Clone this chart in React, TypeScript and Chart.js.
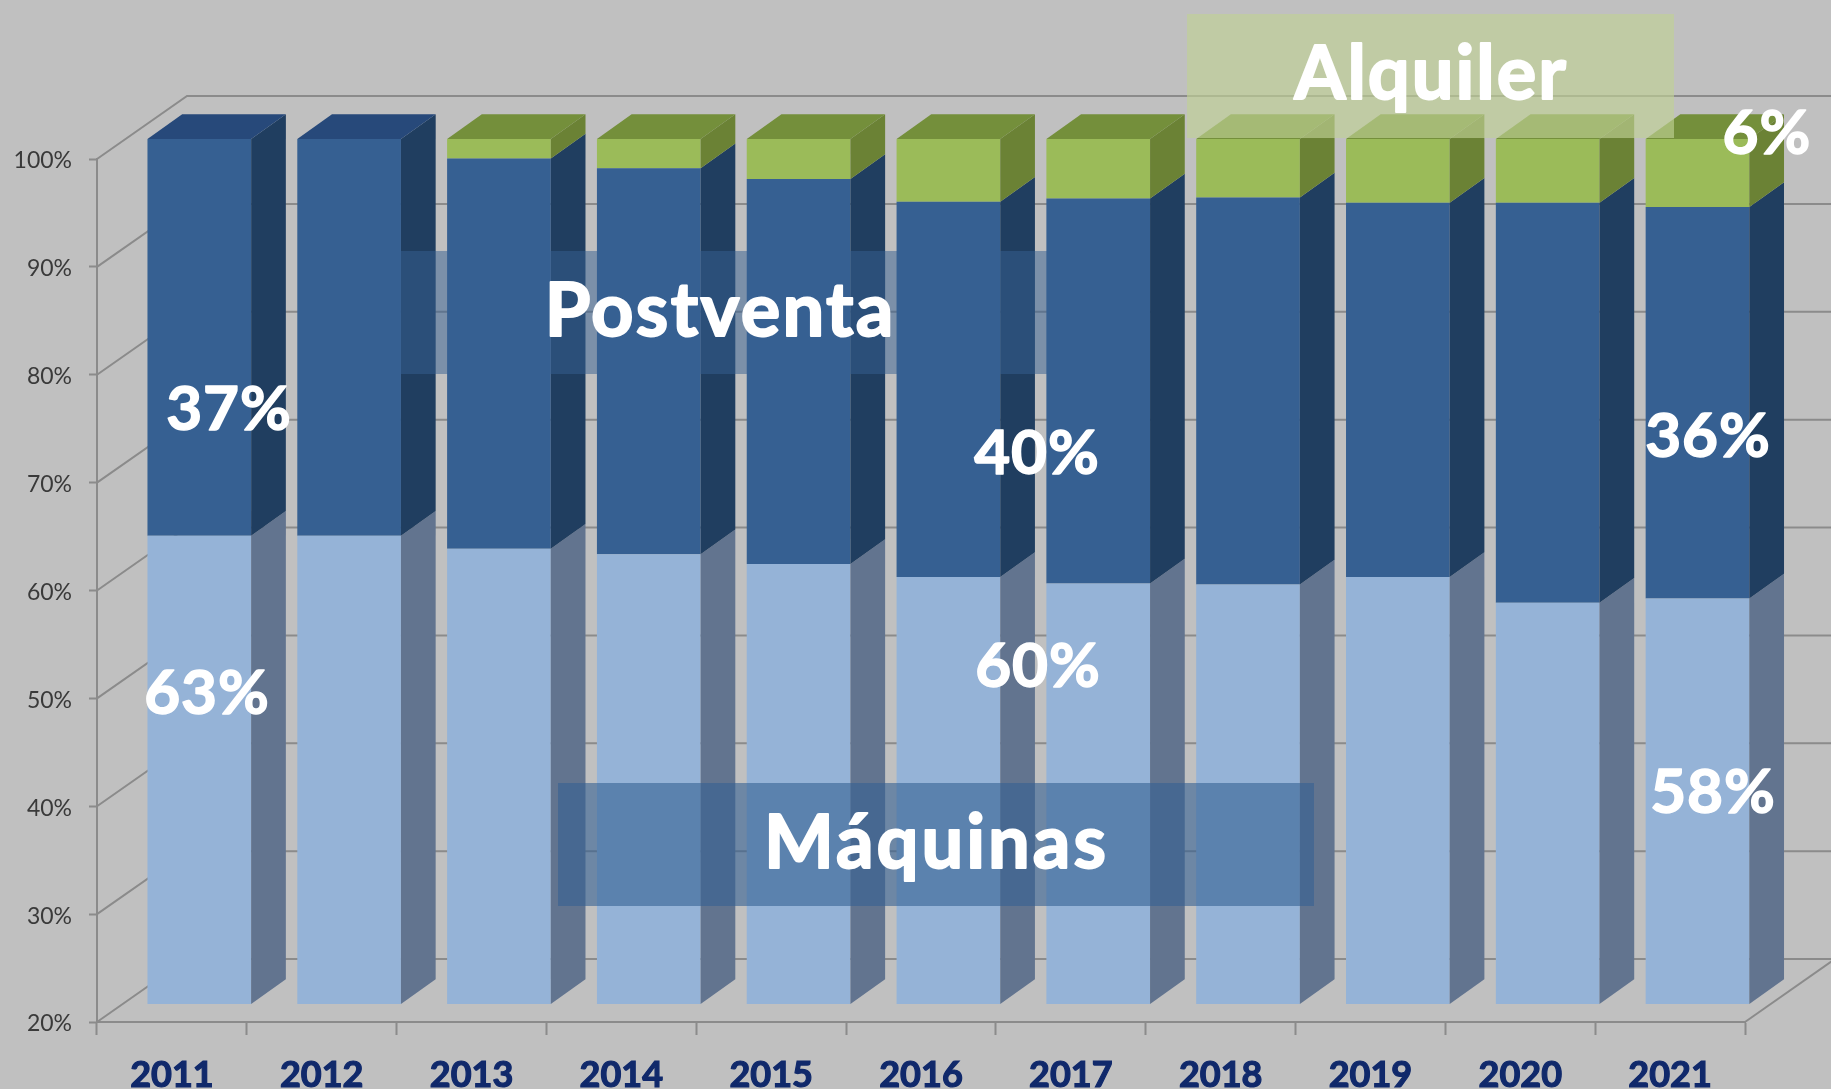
import React, { useEffect, useRef } from "react";
import { Chart, registerables } from "chart.js";

Chart.register(...registerables);

const years = ["2011", "2012", "2013", "2014", "2015", "2016", "2017", "2018", "2019", "2020", "2021"];
const maquinas = [63.3, 63.3, 62.1, 61.6, 60.7, 59.5, 58.9, 58.8, 59.5, 57.1, 57.5];
const postventa = [36.7, 36.7, 36.1, 35.7, 35.6, 34.7, 35.6, 35.8, 34.6, 37.0, 36.2];
const alquiler = [0, 0, 1.8, 2.7, 3.7, 5.8, 5.5, 5.4, 5.9, 5.9, 6.3];

const seriesNames = ["Máquinas", "Postventa", "Alquiler"];
const frontColors = ["#95b3d7", "#366092", "#9bbb59"];
const sideColors = ["#62748f", "#203e60", "#6b8235"];
const topColors = ["#62748f", "#27497a", "#748f3b"];

const BG = "#c0c0c0";
const GRID = "#8b8b8b";
const DEPTH_X = 34.7;
const DEPTH_Y = -24.7;
const WALL_X = 90;
const WALL_Y = -63;
const FONT = 'Lato, "Open Sans", sans-serif';

const boxes = [
  { text: "Postventa", x0: 399, x1: 1047, y0: 251, y1: 374, fill: "rgba(54,96,146,0.5)", size: 74, tx: 719, ty: 312, spacing: 2.3 },
  { text: "Máquinas", x0: 558, x1: 1314, y0: 783, y1: 906, fill: "rgba(54,96,146,0.6)", size: 74, tx: 935, ty: 844, spacing: 3 },
  { text: "Alquiler", x0: 1187, x1: 1674, y0: 14, y1: 138, fill: "rgba(192,209,149,0.65)", size: 74, tx: 1430, ty: 75, spacing: 2 },
];

const percentLabels = [
  { text: "37%", x: 229, y: 410 },
  { text: "63%", x: 207, y: 694 },
  { text: "40%", x: 1037, y: 454 },
  { text: "60%", x: 1038, y: 667 },
  { text: "36%", x: 1708, y: 437 },
  { text: "58%", x: 1713, y: 793 },
  { text: "6%", x: 1767, y: 134 },
];

const bars3d = {
  id: "bars3d",
  beforeDatasetsDraw(chart: any) {
    const { ctx, chartArea, scales, width } = chart;
    ctx.save();
    ctx.strokeStyle = GRID;
    ctx.lineWidth = 2;
    for (const t of scales.y.ticks) {
      const y = scales.y.getPixelForValue(t.value);
      ctx.beginPath();
      ctx.moveTo(chartArea.left, y);
      ctx.lineTo(chartArea.left + WALL_X, y + WALL_Y);
      ctx.lineTo(width, y + WALL_Y);
      ctx.stroke();
    }
    ctx.beginPath();
    ctx.moveTo(chartArea.right, chartArea.bottom);
    ctx.lineTo(chartArea.right + WALL_X, chartArea.bottom + WALL_Y);
    ctx.stroke();
    ctx.restore();

    ctx.save();
    const k = 865 / 863;
    ctx.transform(1, 0, 0, k, 27.4, 139 - chartArea.top * k);
  },
  afterDatasetsDraw(chart: any) {
    const { ctx, chartArea } = chart;
    chart.data.datasets.forEach((ds: any, di: number) => {
      const meta = chart.getDatasetMeta(di);
      meta.data.forEach((el: any, i: number) => {
        if (!ds.data[i]) return;
        const right = el.x + el.width / 2;
        const left = el.x - el.width / 2;
        const top = el.y;
        const bottom = Math.min(el.base, chartArea.bottom);
        ctx.fillStyle = sideColors[di];
        ctx.beginPath();
        ctx.moveTo(right, top);
        ctx.lineTo(right + DEPTH_X, top + DEPTH_Y);
        ctx.lineTo(right + DEPTH_X, bottom + DEPTH_Y);
        ctx.lineTo(right, bottom);
        ctx.closePath();
        ctx.fill();
        const above = chart.data.datasets.slice(di + 1).some((d: any) => d.data[i] > 0);
        if (!above) {
          ctx.fillStyle = topColors[di];
          ctx.beginPath();
          ctx.moveTo(left, top);
          ctx.lineTo(left + DEPTH_X, top + DEPTH_Y);
          ctx.lineTo(right + DEPTH_X, top + DEPTH_Y);
          ctx.lineTo(right, top);
          ctx.closePath();
          ctx.fill();
        }
      });
    });
    ctx.restore();
  },
  afterDraw(chart: any) {
    const { ctx } = chart;
    ctx.save();
    ctx.textAlign = "center";
    ctx.textBaseline = "middle";
    ctx.lineJoin = "round";
    for (const b of boxes) {
      ctx.fillStyle = b.fill;
      ctx.fillRect(b.x0, b.y0, b.x1 - b.x0, b.y1 - b.y0);
    }
    ctx.fillStyle = "#ffffff";
    ctx.strokeStyle = "#ffffff";
    ctx.lineWidth = 2;
    for (const b of boxes) {
      ctx.font = `bold ${b.size}px ${FONT}`;
      ctx.letterSpacing = `${b.spacing}px`;
      ctx.fillText(b.text, b.tx + b.spacing / 2, b.ty);
      ctx.strokeText(b.text, b.tx + b.spacing / 2, b.ty);
    }
    ctx.font = `bold 62px ${FONT}`;
    ctx.letterSpacing = "1px";
    ctx.lineWidth = 1.5;
    for (const p of percentLabels) {
      ctx.fillText(p.text, p.x, p.y);
      ctx.strokeText(p.text, p.x, p.y);
    }
    ctx.restore();
  },
};

export default function App() {
  const ref = useRef<HTMLCanvasElement | null>(null);
  useEffect(() => {
    document.body.style.margin = "0";
    document.body.style.background = BG;
    const chart = new Chart(ref.current as HTMLCanvasElement, {
      type: "bar",
      data: {
        labels: years,
        datasets: [maquinas, postventa, alquiler].map((data, i) => ({
          label: seriesNames[i],
          data,
          backgroundColor: frontColors[i],
          borderWidth: 0,
          barPercentage: 0.692,
          categoryPercentage: 1,
        })),
      },
      options: {
        responsive: false,
        animation: false,
        layout: { padding: { left: 0, right: 86, top: 159, bottom: 0 } },
        plugins: { legend: { display: false }, title: { display: false }, tooltip: { enabled: false } },
        scales: {
          x: {
            stacked: true,
            afterFit: (s: any) => { s.height = 67; },
            border: { display: true, color: GRID, width: 2 },
            grid: { drawOnChartArea: false, drawTicks: true, tickLength: 13, tickWidth: 2, tickColor: GRID, color: GRID },
            ticks: {
              color: "#10296b",
              padding: 19,
              maxRotation: 0,
              textStrokeColor: "#10296b",
              textStrokeWidth: 1.2,
              font: { family: FONT, size: 36, weight: "bold" },
            },
          },
          y: {
            stacked: true,
            min: 20,
            max: 100,
            afterFit: (s: any) => { s.width = 97; },
            border: { display: true, color: GRID, width: 2 },
            grid: { drawOnChartArea: false, drawTicks: true, tickLength: 8, tickWidth: 2, tickColor: GRID, color: GRID },
            ticks: {
              stepSize: 10,
              color: "#3a3a3a",
              padding: 17,
              labelOffset: 2,
              font: { family: FONT, size: 23 },
              callback: (v: any) => `${v}%`,
            },
          },
        },
      },
      plugins: [bars3d],
    } as any);
    return () => chart.destroy();
  }, []);
  return <canvas ref={ref} width={1831} height={1089} style={{ display: "block", background: BG }} />;
}
